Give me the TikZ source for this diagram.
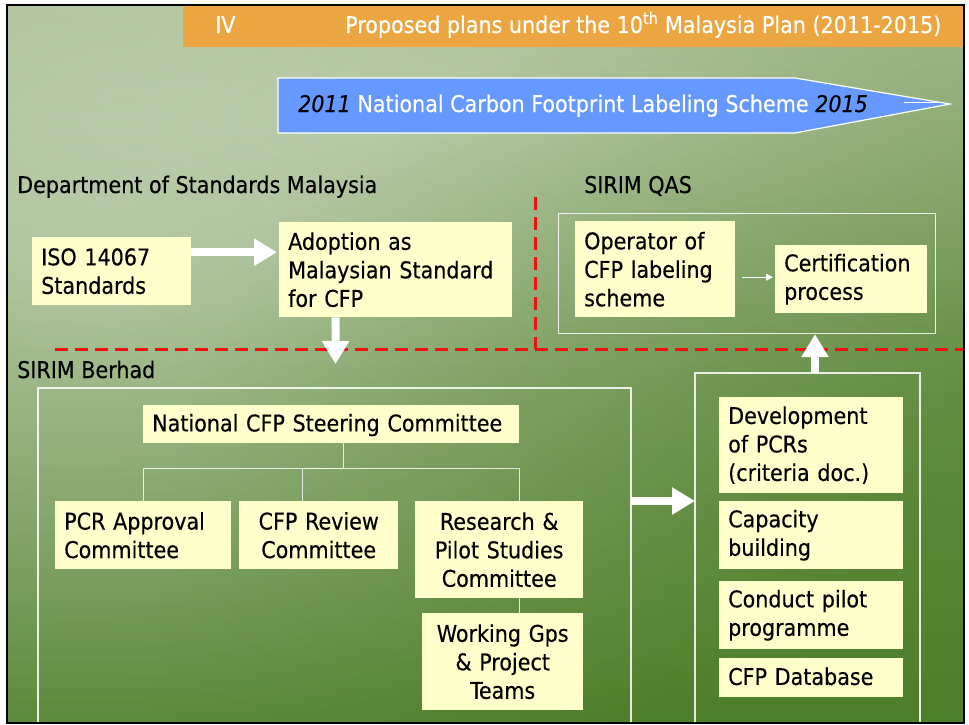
\documentclass[tikz,border=0pt]{standalone}
\usepackage{fontspec}
\setmainfont{DejaVu Sans Condensed}[ItalicFont={DejaVu Sans Condensed Oblique}, FakeBold=0.3, AutoFakeBold=0.3]
\usetikzlibrary{arrows.meta,fadings}

\definecolor{boxfill}{HTML}{FFFFCC}
\definecolor{bannerorange}{HTML}{ECA641}
\definecolor{schemeblue}{HTML}{6699FF}
\definecolor{dashred}{HTML}{F01010}
\definecolor{greentop}{HTML}{98B27F}
\definecolor{greenbottom}{HTML}{4E7F2A}

\tikzfading[name=glow, inner color=transparent!0, outer color=transparent!100]

\newcommand{\boxfont}{\fontsize{23}{28.5}\selectfont}

\begin{document}
\begin{tikzpicture}[x=1pt,y=-1pt,
  ybox/.style={fill=boxfill, text=black, inner xsep=9pt, inner ysep=0pt,
    anchor=north west, font=\boxfont, align=left},
  cbox/.style={ybox, align=center},
  lbl/.style={text=black, inner sep=0pt, anchor=base west, font=\boxfont},
  framel/.style={draw=white, line width=1.2pt, opacity=0.85},
  orgline/.style={draw=white, line width=1pt, opacity=0.8},
  fatarrow/.style={draw=white, line width=8pt, line cap=butt,
    -{Triangle[length=23pt,width=26pt]}},
  thinarrow/.style={draw=white, line width=1.2pt,
    -{Triangle[length=7pt,width=7pt]}},
  reddash/.style={draw=dashred, line width=3pt, dash pattern=on 13pt off 7pt}]

\useasboundingbox (0,0) rectangle (969,725);
\fill[white] (0,0) rectangle (969,725);

% green sea backdrop
\shade[top color=greentop, bottom color=greenbottom] (7,5) rectangle (964,723);
\begin{scope}
  \clip (7,5) rectangle (964,723);
  \fill[white, opacity=0.38, path fading=glow] (80,280) ellipse (900 and 560);
  \fill[white, opacity=0.22, path fading=glow] (480,120) ellipse (1150 and 260);
  \fill[greenbottom, opacity=0.5, path fading=glow] (920,580) ellipse (760 and 620);
\end{scope}

% title banner
\fill[bannerorange] (183,6) rectangle (963,47);
\node[lbl, text=white] (numeral) at (215,33) {IV};
\node[lbl, text=white] (title) at (345,33)
  {Proposed plans under the 10\textsuperscript{th} Malaysia Plan (2011-2015)};

% scheme arrow
\fill[schemeblue, draw=white, line width=1.2pt]
  (278,78) -- (795,78) -- (950,104) -- (795,133) -- (278,133) -- cycle;
\draw[white, line width=1pt] (904,102) -- (942,102);
\node[lbl, text=white] (scheme) at (298,112)
  {\textit{\color{black}2011} National Carbon Footprint Labeling Scheme \textit{\color{black}2015}};

% organisation boundaries
\draw[reddash] (55,349) -- (963,349);
\draw[reddash] (535,197) -- (535,349);

\node[lbl] (dsm) at (17,193) {Department of Standards Malaysia};
\node[lbl] (qaslbl) at (584,193) {SIRIM QAS};
\node[lbl] (berhad) at (17,378) {SIRIM Berhad};

% frames
\node[framel, inner sep=0pt, minimum width=377pt, minimum height=120pt,
  anchor=north west] (qasframe) at (558,213) {};
\draw[framel] (38,723) -- (38,388) -- (631,388) -- (631,723);
\draw[framel] (695,723) -- (695,373) -- (920,373) -- (920,723);

% standards
\node[ybox, text width=141pt, minimum height=68pt] (iso) at (32,237)
  {ISO 14067\\Standards};
\node[ybox, text width=215pt, minimum height=95pt] (adopt) at (279,222)
  {Adoption as\\Malaysian Standard\\for CFP};

% SIRIM QAS
\node[ybox, text width=142pt, minimum height=96pt] (oper) at (575,221)
  {Operator of\\CFP labeling\\scheme};
\node[ybox, text width=134pt, minimum height=68pt] (cert) at (775,245)
  {Certification\\process};

% SIRIM Berhad committees
\node[ybox, text width=358pt, minimum height=38pt, text depth=3pt] (steer) at (143,405)
  {National CFP Steering Committee};
\node[ybox, text width=158pt, minimum height=68pt] (pcr) at (55,501)
  {PCR Approval\\Committee};
\node[cbox, text width=141pt, minimum height=68pt] (review) at (239,501)
  {CFP Review\\Committee};
\node[cbox, text width=150pt, minimum height=97pt] (research) at (415,501)
  {Research \&\\Pilot Studies\\Committee};
\node[cbox, text width=143pt, minimum height=97pt] (working) at (422,613)
  {Working Gps\\\& Project\\Teams};

% activities
\node[ybox, text width=166pt, minimum height=96pt] (dev) at (719,397)
  {Development\\of PCRs\\(criteria doc.)};
\node[ybox, text width=166pt, minimum height=68pt] (capb) at (719,501)
  {Capacity\\building};
\node[ybox, text width=166pt, minimum height=68pt] (pilot) at (719,581)
  {Conduct pilot\\programme};
\node[ybox, text width=166pt, minimum height=39pt, text depth=3pt] (db) at (719,658)
  {CFP Database};

% committee tree
\coordinate (hub) at (343,468);
\draw[orgline] (steer.south -| hub) -- (hub);
\draw[orgline] (pcr.north) |- (hub);
\draw[orgline] ([xshift=-16.5pt]review.north) |- (hub);
\draw[orgline] ([xshift=20pt]research.north) |- (hub);
\draw[orgline] ([xshift=20pt]research.south) -- ([xshift=20pt]research.south |- working.north);

% flows
\path ([yshift=19pt]iso.east) coordinate (isoout);
\draw[fatarrow] (isoout) -- ([xshift=-2pt]isoout -| adopt.west);
\path ([xshift=-60pt]adopt.south) coordinate (adoptout);
\coordinate (berhadin) at (335.5,364);
\draw[fatarrow] (adoptout) -- (berhadin);
\path ([yshift=-8pt]oper.east) coordinate (operout);
\draw[thinarrow, shorten <=7pt, shorten >=2pt] (operout) -- (operout -| cert.west);
\coordinate (rframetop) at (815,373);
\draw[fatarrow] (rframetop) -- (rframetop |- qasframe.south);
\coordinate (lframeout) at (631,501);
\coordinate (rframein) at (695,501);
\draw[fatarrow] (lframeout) -- (rframein);

% outer rule
\draw[black, line width=2.5pt] (7,5) rectangle (964,723);
\end{tikzpicture}
\end{document}
